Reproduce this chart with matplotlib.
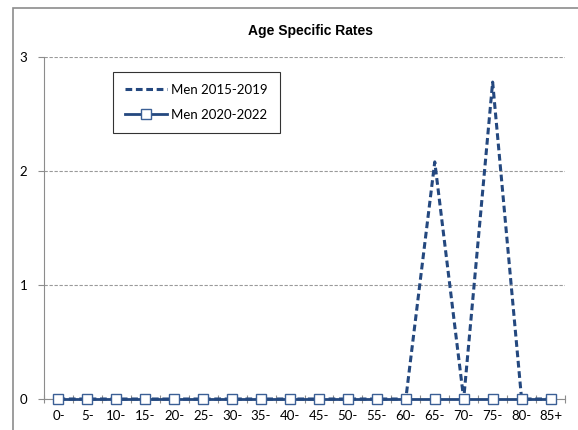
import numpy as np
import matplotlib.pyplot as plt
from matplotlib.patches import Rectangle

ages = ['0-', '5-', '10-', '15-', '20-', '25-', '30-', '35-', '40-', '45-',
        '50-', '55-', '60-', '65-', '70-', '75-', '80-', '85+']
men_2015_2019 = [0, 0, 0, 0, 0, 0, 0, 0, 0, 0, 0, 0, 0, 2.08, 0, 2.78, 0, 0]
men_2020_2022 = [0, 0, 0, 0, 0, 0, 0, 0, 0, 0, 0, 0, 0, 0, 0, 0, 0, 0]

blue = '#24487f'
W, H = 578, 430

fig = plt.figure(figsize=(W / 100, H / 100), dpi=100)
# outer chart frame (right and bottom edges fall outside the picture)
fig.patches.append(Rectangle((13 / W, -0.05), 1.0, 1 - 8 / H + 0.05,
                             transform=fig.transFigure, fill=False,
                             edgecolor='#8c8c8c', linewidth=1.2))

ax = fig.add_axes([44 / W, 1 - 399 / H, (565 - 44) / W, (399 - 57) / H])
x = np.arange(len(ages))

ax.plot(x, men_2015_2019, linestyle=(0, (2.2, 1.2)), color=blue, linewidth=2.2,
        label='Men 2015-2019', zorder=6, clip_on=False)
ax.plot(x, men_2020_2022, color=blue, linewidth=2, marker='s', markersize=6.5,
        markerfacecolor='white', markeredgecolor='#3b5f95', markeredgewidth=1,
        label='Men 2020-2022', zorder=7, clip_on=False)

ax.set_xlim(-0.5, len(ages) - 0.5)
ax.set_ylim(0, 3)
ax.set_yticks([0, 1, 2, 3])
ax.set_xticks(x)
ax.set_xticklabels(ages, fontsize=9.5, family='Lato')
ax.set_xticks(np.arange(-0.5, len(ages), 1), minor=True)
ax.tick_params(axis='x', which='major', length=0, pad=8)
ax.tick_params(axis='x', which='minor', direction='inout', length=6,
               color='#8c8c8c', width=0.8)
ax.tick_params(axis='y', direction='out', length=4, color='#8c8c8c',
               width=0.8, labelsize=9.5, pad=8)
for lab in ax.get_yticklabels():
    lab.set_family('Lato')

ax.grid(axis='y', linestyle=(0, (3, 1.5)), color='#9a9a9a', linewidth=0.8)
ax.set_axisbelow(True)
for s in ['top', 'right']:
    ax.spines[s].set_visible(False)
ax.spines['left'].set_color('#8c8c8c')
ax.spines['bottom'].set_color('#8c8c8c')

fig.text(310 / W, 1 - 31 / H, 'Age Specific Rates', ha='center', va='center',
         fontsize=10, fontweight='bold', family='Liberation Sans')

leg = ax.legend(loc='upper left', bbox_to_anchor=((113 - 44) / (565 - 44), 1 - (72 - 57) / (399 - 57)),
                frameon=True, fancybox=False, edgecolor='black',
                prop={'family': 'Lato', 'size': 9.5}, handlelength=3.2,
                borderpad=0.9, labelspacing=1.0, handletextpad=0.3,
                borderaxespad=0)
leg.get_frame().set_linewidth(0.8)
leg.set_zorder(10)

fig.savefig('out.png', dpi=100)
